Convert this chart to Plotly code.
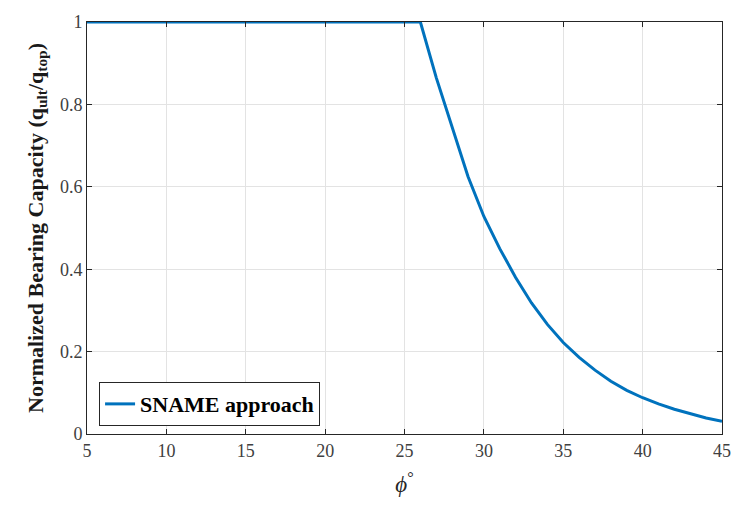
import plotly.graph_objects as go

phi = [5, 10, 15, 20, 25, 26, 27, 28, 29, 30, 31, 32, 33, 34, 35, 36, 37, 38, 39, 40, 41, 42, 43, 44, 45]
q_norm = [1.0, 1.0, 1.0, 1.0, 1.0, 1.0, 0.865, 0.745, 0.625, 0.528, 0.45, 0.38, 0.318, 0.266, 0.222, 0.186, 0.155, 0.128, 0.106, 0.088, 0.073, 0.06, 0.049, 0.039, 0.031]

x_ticks = [5, 10, 15, 20, 25, 30, 35, 40, 45]
y_ticks = [0, 0.2, 0.4, 0.6, 0.8, 1]
y_tick_text = ["0", "0.2", "0.4", "0.6", "0.8", "1"]

fig = go.Figure()
fig.add_trace(go.Scatter(
    x=phi, y=q_norm, mode="lines", name="<b>SNAME approach</b>",
    line=dict(color="#0072BD", width=3),
))

axis_common = dict(
    showgrid=True, gridcolor="#e3e3e3", gridwidth=1,
    showline=True, linecolor="#262626", linewidth=1, mirror="ticks",
    ticks="inside", ticklen=5, tickcolor="#262626",
    zeroline=False, automargin=False,
    tickfont=dict(family="Liberation Serif, serif", size=18, color="#404040"),
)

fig.update_layout(
    width=734, height=506,
    margin=dict(l=87, r=12, t=22, b=72),
    paper_bgcolor="white", plot_bgcolor="white",
    font=dict(family="Liberation Serif, serif", color="#000000"),
    xaxis=dict(
        range=[5, 45], tickvals=x_ticks,
        title=dict(text="<i>ϕ</i><sup>°</sup>", font=dict(size=23, color="#262626"), standoff=16),
        **axis_common,
    ),
    yaxis=dict(
        range=[0, 1], tickvals=y_ticks, ticktext=y_tick_text,
        title=dict(text="<b>Normalized Bearing Capacity (q<sub>ult</sub>/q<sub>top</sub>)</b>",
                   font=dict(size=22, color="#1a1a1a"), standoff=10),
        **axis_common,
    ),
    showlegend=True,
    legend=dict(
        x=0.019, y=0.126, xanchor="left", yanchor="top",
        bgcolor="white", bordercolor="#262626", borderwidth=1,
        font=dict(family="Liberation Serif, serif", size=22, color="#000000"),
    ),
)

fig.write_html("out.html")
